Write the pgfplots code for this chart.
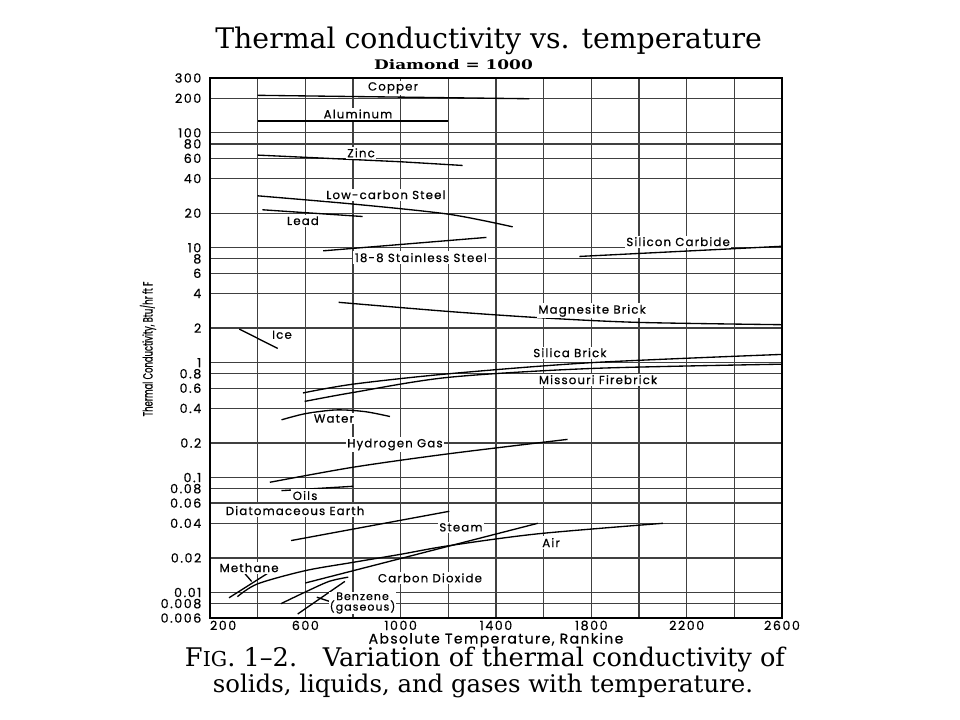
\documentclass[border=0pt]{standalone}
\usepackage{pgfplots}
\pgfplotsset{compat=1.18}
\usepackage{fontspec}
\setmainfont{Poppins}
\newfontfamily\serif{DejaVu Serif}
\newfontfamily\tickfont[LetterSpace=12,FakeBold=0.6]{Poppins}
\newfontfamily\labfont[LetterSpace=10,FakeBold=0.6]{Poppins}
\newfontfamily\ylabfont[FakeBold=0.5]{Poppins}
\tikzset{lab/.style={fill=white, inner sep=1.2pt, font=\labfont\fontsize{8.8}{10}\selectfont},
  curve/.style={black, line width=1pt, mark=none}}
\begin{document}
\begin{tikzpicture}[x=1pt,y=1pt]
\useasboundingbox (-157.5,-76.5) rectangle (562.5,463.5);
\begin{axis}[at={(0,0)}, anchor=south west, scale only axis,
  width=429pt, height=405pt,
  xmin=200, xmax=2600, ymode=log, ymin=0.006, ymax=300,
  xtick={200,400,...,2600},
  xticklabels={\makebox[0pt][l]{200},,600,,1000,,1400,,1800,,2200,,2600},
  ytick={0.006,0.008,0.01,0.02,0.04,0.06,0.08,0.1,0.2,0.4,0.6,0.8,1,2,4,6,8,10,20,40,60,80,100,200,300},
  yticklabels={0.006,0.008,0.01,0.02,0.04,0.06,0.08,0.1,0.2,0.4,0.6,0.8,1,2,4,6,8,10,20,40,60,80,100,200,300},
  grid=major, major grid style={black!75, line width=0.9pt},
  major tick length=0pt,
  axis line style={line width=1.4pt},
  tick label style={font=\tickfont\fontsize{9.5}{10}\selectfont},
  xticklabel style={yshift=1.5pt},
  yticklabel style={xshift=-3pt},
]
% Copper
\addplot[curve] coordinates {(400,212) (1540,198)};
% Aluminum
\addplot[curve] coordinates {(400,127) (1200,127)};
% Zinc
\addplot[curve] coordinates {(400,64) (1000,56) (1260,52)};
% Low-carbon steel
\addplot[curve, smooth] coordinates {(400,28.3) (800,24) (1200,19.6) (1470,15.2)};
% Lead
\addplot[curve] coordinates {(420,21.4) (840,18.7)};
% 18-8 stainless
\addplot[curve] coordinates {(675,9.4) (1360,12.3)};
% Silicon carbide
\addplot[curve] coordinates {(1750,8.4) (2600,10.3)};
% Magnesite brick
\addplot[curve, smooth] coordinates {(740,3.35) (1200,2.79) (1600,2.45) (2000,2.24) (2600,2.14)};
% Ice
\addplot[curve] coordinates {(323,1.96) (484,1.33)};
% Silica brick
\addplot[curve, smooth] coordinates {(590,0.545) (800,0.65) (1200,0.80) (1800,1.0) (2600,1.18)};
% Missouri firebrick
\addplot[curve, smooth] coordinates {(597,0.46) (800,0.55) (1200,0.745) (1800,0.89) (2600,0.97)};
% Water
\addplot[curve, smooth] coordinates {(500,0.318) (600,0.36) (730,0.388) (850,0.375) (955,0.34)};
% Hydrogen gas
\addplot[curve, smooth] coordinates {(451,0.091) (800,0.123) (1200,0.161) (1700,0.215)};
% Oils
\addplot[curve] coordinates {(500,0.077) (800,0.084)};
% Diatomaceous earth
\addplot[curve] coordinates {(540,0.0283) (1204,0.0509)};
% Steam
\addplot[curve] coordinates {(600,0.0121) (1575,0.040)};
% Air
\addplot[curve, smooth] coordinates {(315,0.0092) (400,0.0119) (600,0.0155) (800,0.0183) (1000,0.0215) (1200,0.0255) (1575,0.0324) (2100,0.040)};
% Methane
\addplot[curve] coordinates {(280,0.0090) (440,0.0146)};
\addplot[curve] coordinates {(347,0.01455) (375,0.01246)};
% Carbon dioxide
\addplot[curve, smooth] coordinates {(498,0.0080) (600,0.0101) (700,0.0125) (780,0.0136)};
% Benzene
\addplot[curve] coordinates {(568,0.0065) (766,0.0125)};
\addplot[curve] coordinates {(648,0.0091) (703,0.00835)};
% labels
\node[lab] at (axis cs:968,246) {Copper};
\node[lab] at (axis cs:821,146) {Aluminum};
\node[lab] at (axis cs:834,67) {Zinc};
\node[lab] at (axis cs:938,28.9) {Low-carbon Steel};
\node[lab] at (axis cs:590,17.2) {Lead};
\node[lab] at (axis cs:1085,8.2) {18-8 Stainless Steel};
\node[lab] at (axis cs:2164,11.3) {Silicon Carbide};
\node[lab] at (axis cs:1803,2.83) {Magnesite Brick};
\node[lab] at (axis cs:502,1.75) {Ice};
\node[lab] at (axis cs:1710,1.22) {Silica Brick};
\node[lab] at (axis cs:1828,0.711) {Missouri Firebrick};
\node[lab] at (axis cs:720,0.326) {Water};
\node[lab] at (axis cs:976,0.194) {Hydrogen Gas};
\node[lab] at (axis cs:599,0.0698) {Oils};
\node[lab] at (axis cs:557,0.0516) {Diatomaceous Earth};
\node[lab] at (axis cs:1253,0.0369) {Steam};
\node[lab] at (axis cs:1631,0.0272) {Air};
\node[lab] at (axis cs:364,0.0164) {Methane};
\node[lab] at (axis cs:1123,0.0134) {Carbon Dioxide};
\node[lab, align=center, inner sep=0.6pt, font=\labfont\fontsize{8.2}{7.9}\selectfont] at (axis cs:840,0.0081) {Benzene\\(gaseous)};
\end{axis}
\node at (209,432.75) {\resizebox{410pt}{!}{\serif Thermal conductivity vs. temperature}};
\node at (182.6,414.75) {\resizebox{119pt}{7.5pt}{\serif\bfseries Diamond = 1000}};
\node at (214.5,-16.5) {\resizebox{191pt}{!}{\labfont Absolute Temperature, Rankine}};
\node[rotate=90] at (-46.5,201.75) {\resizebox{101pt}{9.5pt}{\ylabfont Thermal Conductivity, Btu/hr ft F}};
\node at (206.25,-31.5) {\resizebox{450pt}{!}{\serif F{\footnotesize IG}. 1–2.\quad Variation of thermal conductivity of}};
\node at (204.75,-51) {\resizebox{405pt}{!}{\serif solids, liquids, and gases with temperature.}};
\end{tikzpicture}
\end{document}
